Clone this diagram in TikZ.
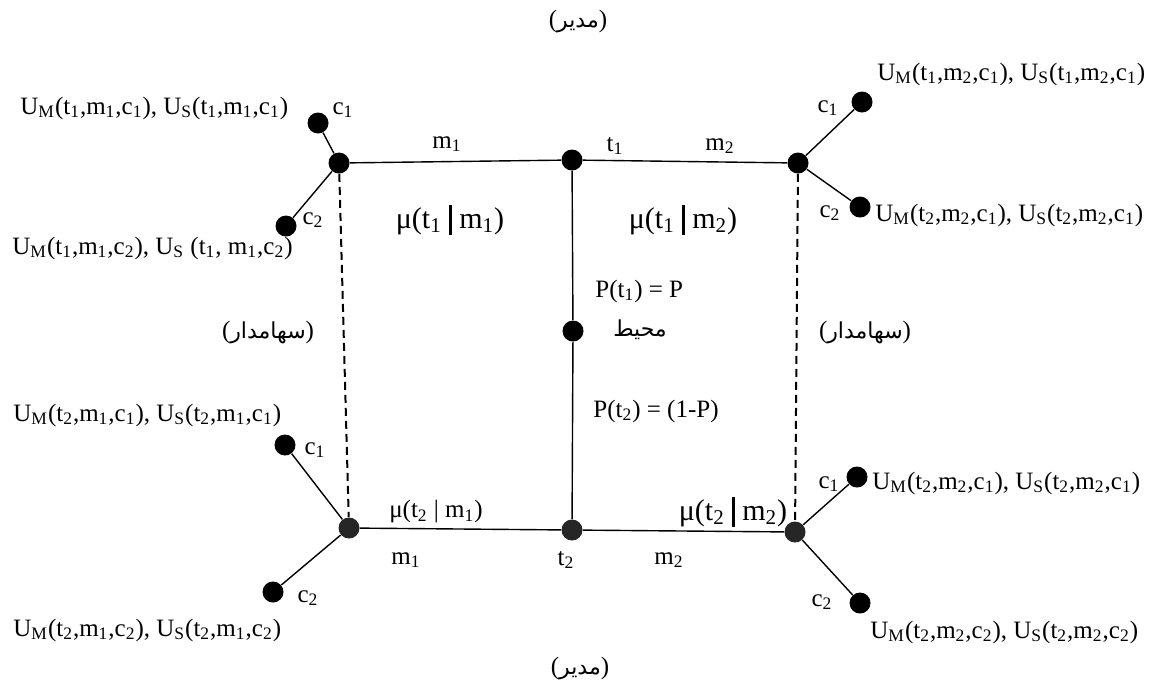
\documentclass[tikz,border=0pt]{standalone}
\usepackage{fontspec}
\setmainfont{Liberation Serif}
\newfontfamily\arabicfont[Script=Arabic]{DejaVu Sans}
\TeXXeTstate=1
\usepackage{tikz}
\usetikzlibrary{positioning}
\newcommand{\dn}[1]{\textsubscript{#1}}
\newcommand{\fa}[1]{({\arabicfont\fontsize{11}{13}\selectfont\beginR #1\endR})}
\newcommand{\vbar}{ \rule[-3.5pt]{1.3pt}{15pt} }

\begin{document}
\begin{tikzpicture}[x=0.5pt,y=-0.5pt,font=\fontsize{12.5}{15}\selectfont,
  dot/.style={circle,fill=black,inner sep=0pt,minimum size=10.5pt},
  dotb/.style={dot,fill=black!85},
  lbl/.style={inner sep=0pt},
  mu/.style={inner sep=0pt,font=\fontsize{15}{17}\selectfont},
  dsh/.style={line width=1pt,dash pattern=on 4pt off 2.5pt}]
\useasboundingbox (0,0) rectangle (1149,682);
% decision nodes
\node[dot] (tl) at (339,163) {};
\node[dot] (tm) at (572,160) {};
\node[dot] (tr) at (798,163) {};
\node[dot] (mm) at (573,331) {};
\node[dotb] (bl) at (349,528) {};
\node[dotb] (bm) at (572,530) {};
\node[dotb] (br) at (795,532) {};
% end points
\node[dot] (tl1) at (318,123) {};
\node[dot] (tl2) at (286,226) {};
\node[dot] (tr1) at (862,102) {};
\node[dot] (tr2) at (860,207) {};
\node[dot] (bl1) at (285,445) {};
\node[dot] (bl2) at (273,592) {};
\node[dot] (br1) at (857,477) {};
\node[dot] (br2) at (860,603) {};
% branches
\draw[line width=0.7pt] (tl)--(tm)--(tr) (bl)--(bm)--(br) (tm)--(mm)--(bm);
\draw[line width=0.7pt] (tl)--(tl1) (tl)--(tl2) (tr)--(tr1) (tr)--(tr2);
\draw[line width=0.7pt] (bl)--(bl1) (bl)--(bl2) (br)--(br1) (br)--(br2);
\draw[dsh] (tl)--(bl);
\draw[dsh] (tr)--(br);
% payoffs
\node[lbl,anchor=west] (u1) at (20,108) {U\dn{M}(t\dn{1},m\dn{1},c\dn{1}), U\dn{S}(t\dn{1},m\dn{1},c\dn{1})};
\node[lbl,anchor=west] (u2) at (12,248) {U\dn{M}(t\dn{1},m\dn{1},c\dn{2}), U\dn{S} (t\dn{1}, m\dn{1},c\dn{2})};
\node[lbl,anchor=west] (u3) at (877,74) {U\dn{M}(t\dn{1},m\dn{2},c\dn{1}), U\dn{S}(t\dn{1},m\dn{2},c\dn{1})};
\node[lbl,anchor=west] (u4) at (875,215) {U\dn{M}(t\dn{2},m\dn{2},c\dn{1}), U\dn{S}(t\dn{2},m\dn{2},c\dn{1})};
\node[lbl,anchor=west] (u5) at (13,415) {U\dn{M}(t\dn{2},m\dn{1},c\dn{1}), U\dn{S}(t\dn{2},m\dn{1},c\dn{1})};
\node[lbl,anchor=west] (u6) at (13,630) {U\dn{M}(t\dn{2},m\dn{1},c\dn{2}), U\dn{S}(t\dn{2},m\dn{1},c\dn{2})};
\node[lbl,anchor=west] (u7) at (872,483) {U\dn{M}(t\dn{2},m\dn{2},c\dn{1}), U\dn{S}(t\dn{2},m\dn{2},c\dn{1})};
\node[lbl,anchor=west] (u8) at (870,632) {U\dn{M}(t\dn{2},m\dn{2},c\dn{2}), U\dn{S}(t\dn{2},m\dn{2},c\dn{2})};
% actions
\node[lbl] (c11) at (343,110) {c\dn{1}};
\node[lbl] (c12) at (313,220) {c\dn{2}};
\node[lbl] (c21) at (828,108) {c\dn{1}};
\node[lbl] (c22) at (830,213) {c\dn{2}};
\node[lbl] (c31) at (315,450) {c\dn{1}};
\node[lbl] (c32) at (308,598) {c\dn{2}};
\node[lbl] (c41) at (829,484) {c\dn{1}};
\node[lbl] (c42) at (822,602) {c\dn{2}};
\node[lbl] (m11) at (447,144) {m\dn{1}};
\node[lbl] (t1) at (615,146) {t\dn{1}};
\node[lbl] (m12) at (720,146) {m\dn{2}};
\node[lbl] (m21) at (406,560) {m\dn{1}};
\node[lbl] (t2) at (566,560) {t\dn{2}};
\node[lbl] (m22) at (669,560) {m\dn{2}};
% beliefs
\node[mu] (b11) at (450,220) {μ(t\dn{1}\vbar m\dn{1})};
\node[mu] (b12) at (683,220) {μ(t\dn{1}\vbar m\dn{2})};
\node[lbl] (b21) at (436,512) {μ(t\dn{2} | m\dn{1})};
\node[mu] (b22) at (733,512) {μ(t\dn{2}\vbar m\dn{2})};
\node[lbl,anchor=west] (p1) at (595,291) {P(t\dn{1}) = P};
\node[lbl,anchor=west] (p2) at (593,411) {P(t\dn{2}) = (1-P)};
% players
\node[lbl] (nat) at (640,330) {\arabicfont\fontsize{11}{13}\selectfont\beginR محیط\endR};
\node[lbl] (mgr1) at (578,22) {\fa{مدیر}};
\node[lbl] (mgr2) at (580,668) {\fa{مدیر}};
\node[lbl] (sh1) at (268,332) {\fa{سهامدار}};
\node[lbl] (sh2) at (865,332) {\fa{سهامدار}};
\end{tikzpicture}
\end{document}
